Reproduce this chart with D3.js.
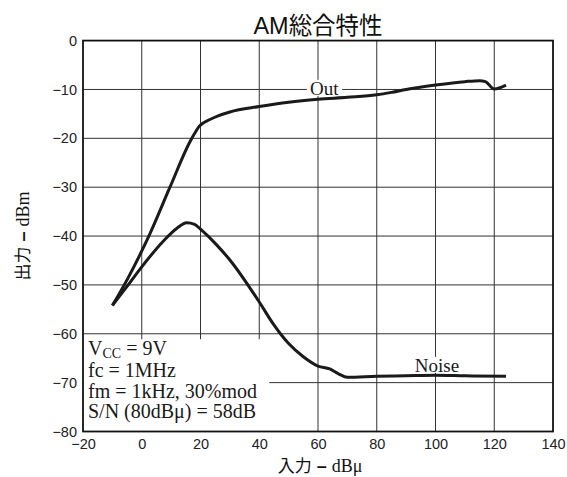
<!DOCTYPE html>
<html>
<head>
<meta charset="utf-8">
<script src="https://cdn.jsdelivr.net/npm/d3@7"></script>
<style>
  body { margin: 0; background: #fff; }
  svg { display: block; }
</style>
</head>
<body>
<div id="chart"></div>
<script>
// data
const outX = [-10, -4.6, 2.8, 9.6, 16.5, 18.6, 19.6, 20.8, 23, 26, 30, 40, 50, 60, 70, 80, 85, 90, 100, 110, 115, 117, 120, 124];
const outY = [-54.2, -48.5, -39.5, -30, -20.6, -18.4, -17.5, -16.9, -16.2, -15.4, -14.6, -13.5, -12.6, -12.0, -11.6, -11.1, -10.6, -10.0, -9.1, -8.4, -8.2, -8.4, -9.9, -9.1];
const noiseX = [-10, -5, 0, 7.4, 12, 15.3, 18, 20, 25, 30, 40, 45, 47.2, 50, 55, 60, 64, 67, 70, 80, 90, 100, 110, 124];
const noiseY = [-54.2, -50.3, -46.3, -41, -38.4, -37.3, -37.6, -38.6, -41.5, -44.9, -53.5, -58.2, -60, -62, -64.7, -66.6, -67.2, -68.2, -68.9, -68.7, -68.6, -68.5, -68.6, -68.7];
const xTicks = [-20, 0, 20, 40, 60, 80, 100, 120, 140];
const yTicks = [0, -10, -20, -30, -40, -50, -60, -70, -80];
const noteLines = ["fc = 1MHz", "fm = 1kHz, 30%mod", "S/N (80dBμ) = 58dB"];

const W = 567, H = 477;
const margin = { top: 40.6, right: 14, bottom: 45.5, left: 83 };
const width = W - margin.left - margin.right;
const height = H - margin.top - margin.bottom;

const svg = d3.select("#chart").append("svg")
  .attr("width", W).attr("height", H);

const g = svg.append("g")
  .attr("transform", `translate(${margin.left},${margin.top})`);

const x = d3.scaleLinear().domain([-20, 140]).range([0, width]);
const y = d3.scaleLinear().domain([-80, 0]).range([height, 0]);

const sans = "'Liberation Sans', Arial, sans-serif";
const serif = "'Liberation Serif', 'Times New Roman', 'Noto Sans CJK JP', serif";
const ink = "#1a1a1a";

// grid
const grid = g.append("g").attr("stroke", "#333").attr("stroke-width", 1);
grid.selectAll("line.v").data(xTicks.slice(1, -1)).enter().append("line")
  .attr("x1", d => x(d)).attr("x2", d => x(d))
  .attr("y1", 0).attr("y2", height);
grid.selectAll("line.h").data(yTicks.slice(1, -1)).enter().append("line")
  .attr("y1", d => y(d)).attr("y2", d => y(d))
  .attr("x1", 0).attr("x2", width);

// white box for the conditions note (hides grid)
g.append("rect")
  .attr("x", 0).attr("y", y(-61.1))
  .attr("width", x(43.4)).attr("height", height - y(-61.1))
  .attr("fill", "#fff");

// axes (ticks as labels only)
const fmt = d => d < 0 ? "\u2212" + Math.abs(d) : d;
const xAxis = g.append("g")
  .attr("transform", `translate(0,${height})`)
  .call(d3.axisBottom(x).tickValues(xTicks).tickSize(0).tickPadding(7).tickFormat(fmt));
const yAxis = g.append("g")
  .call(d3.axisLeft(y).tickValues(yTicks).tickSize(0).tickPadding(6).tickFormat(fmt));
[xAxis, yAxis].forEach(a => {
  a.select(".domain").remove();
  a.selectAll("text").attr("font-family", sans).attr("font-size", 14.5).attr("fill", "#222");
});

// frame
g.append("rect")
  .attr("width", width).attr("height", height)
  .attr("fill", "none").attr("stroke", "#111").attr("stroke-width", 1.8);

// curves
const line = d3.line()
  .x(d => x(d[0])).y(d => y(d[1]))
  .curve(d3.curveMonotoneX);
const outPts = outX.map((v, i) => [v, outY[i]]);
const noisePts = noiseX.map((v, i) => [v, noiseY[i]]);

[outPts, noisePts].forEach(pts => {
  g.append("path")
    .datum(pts)
    .attr("d", line)
    .attr("fill", "none")
    .attr("stroke", ink)
    .attr("stroke-width", 3);
});

// curve labels with white backing
function curveLabel(text, vx, vy) {
  const lg = g.append("g");
  const t = lg.append("text")
    .attr("x", x(vx)).attr("y", y(vy))
    .attr("text-anchor", "middle")
    .attr("font-family", serif).attr("font-size", 19)
    .attr("fill", ink)
    .text(text);
  const b = t.node().getBBox();
  lg.insert("rect", "text")
    .attr("x", b.x - 3).attr("y", b.y + 2)
    .attr("width", b.width + 6).attr("height", b.height - 5)
    .attr("fill", "#fff");
}
curveLabel("Out", 62.1, -11.1);
curveLabel("Noise", 100.5, -67.8);

// conditions note
const noteTop = y(-61.1);
const vcc = g.append("text")
  .attr("x", 5).attr("y", noteTop + 16)
  .attr("font-family", serif).attr("font-size", 20).attr("fill", ink);
vcc.append("tspan").text("V");
vcc.append("tspan").attr("dy", 2.5).attr("font-size", 14).text("CC");
vcc.append("tspan").attr("dy", -2.5).text(" = 9V");
noteLines.forEach((s, i) => {
  g.append("text")
    .attr("x", 5).attr("y", noteTop + 18 + (i + 1) * 20.3)
    .attr("font-family", serif).attr("font-size", 20).attr("fill", ink)
    .text(s);
});

// title
svg.append("text")
  .attr("x", margin.left + width / 2).attr("y", 34)
  .attr("text-anchor", "middle")
  .attr("font-family", "'Liberation Sans', 'Noto Sans CJK JP', sans-serif")
  .attr("font-size", 23.5).attr("fill", "#111")
  .text("AM総合特性");

// axis titles
function axisTitle(sel, left, right) {
  sel.append("tspan").attr("font-family", "'Noto Sans CJK JP', sans-serif")
    .attr("font-size", 17).text(left);
  sel.append("tspan").attr("font-family", sans).attr("font-weight", "bold").text(" \u2013 ");
  sel.append("tspan").attr("font-family", serif).text(right);
}
const xt = svg.append("text")
  .attr("x", margin.left + width / 2 + 2).attr("y", 472)
  .attr("text-anchor", "middle")
  .attr("font-size", 18).attr("fill", "#111");
axisTitle(xt, "入力", "dBμ");

const yt = svg.append("text")
  .attr("transform", `translate(29,${margin.top + height / 2}) rotate(-90)`)
  .attr("text-anchor", "middle")
  .attr("font-size", 18).attr("fill", "#111");
axisTitle(yt, "出力", "dBm");
</script>
</body>
</html>
